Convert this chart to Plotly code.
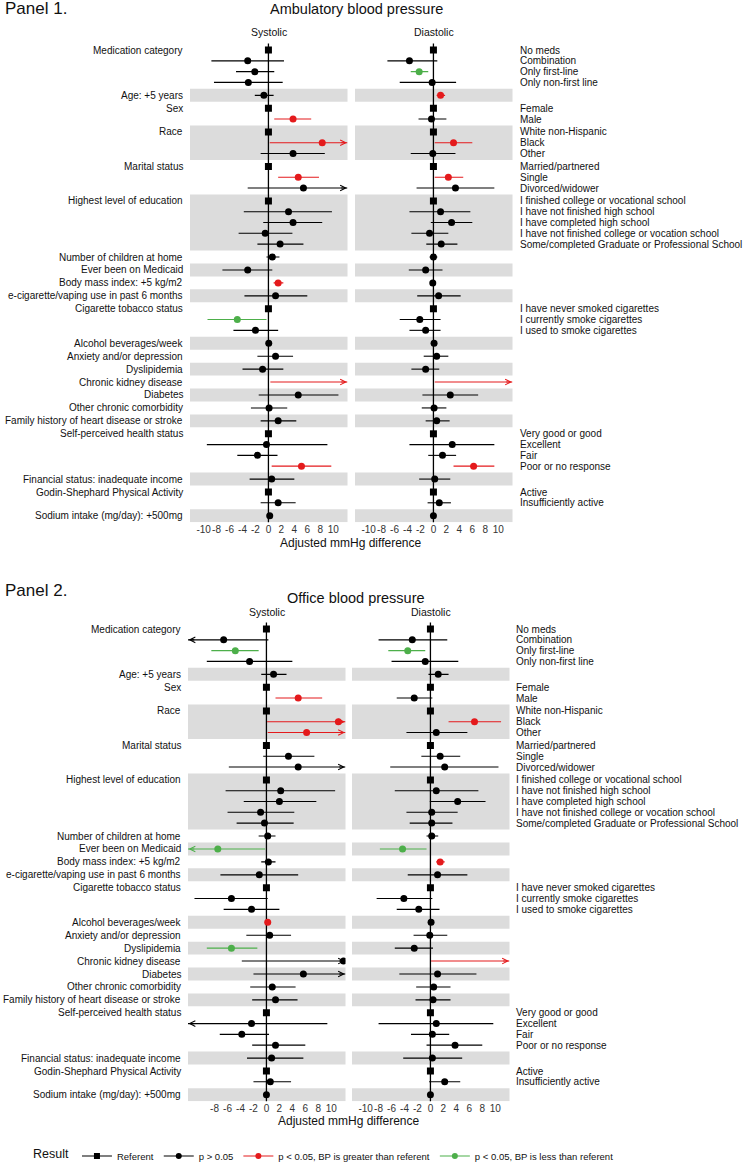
import plotly.graph_objects as go

# ---------------- data ----------------
groups = [
    "Medication category", "Age: +5 years", "Sex", "Race", "Marital status",
    "Highest level of education", "Number of children at home", "Ever been on Medicaid",
    "Body mass index: +5 kg/m2", "e-cigarette/vaping use in past 6 months",
    "Cigarette tobacco status", "Alcohol beverages/week", "Anxiety and/or depression",
    "Dyslipidemia", "Chronic kidney disease", "Diabetes", "Other chronic comorbidity",
    "Family history of heart disease or stroke", "Self-perceived health status",
    "Financial status: inadequate income", "Godin-Shephard Physical Activity",
    "Sodium intake (mg/day): +500mg",
]
levels = [
    ["No meds", "Combination", "Only first-line", "Only non-first line"],
    [""],
    ["Female", "Male"],
    ["White non-Hispanic", "Black", "Other"],
    ["Married/partnered", "Single", "Divorced/widower"],
    ["I finished college or vocational school", "I have not finished high school",
     "I have completed high school", "I have not finished college or vocation school",
     "Some/completed Graduate or Professional School"],
    [""], [""], [""], [""],
    ["I have never smoked cigarettes", "I currently smoke cigarettes", "I used to smoke cigarettes"],
    [""], [""], [""], [""], [""], [""], [""],
    ["Very good or good", "Excellent", "Fair", "Poor or no response"],
    [""],
    ["Active", "Insufficiently active"],
    [""],
]

# Panel 1: ambulatory BP (None = referent level)
amb_sys_est = [None, -3.2, -2.1, -3.1, -0.7, None, 3.8, None, 8.3, 3.8, None, 4.6, 5.4,
               None, 3.1, 3.8, -0.5, 1.8, 0.6, -3.2, 1.5, 1.1, None, -4.8, -2.0, 0.05,
               1.1, -0.9, 14.5, 4.6, 0.1, 1.5, None, -0.3, -1.7, 5.1, 0.5, None, 1.5, 0.2]
amb_sys_lo = [None, -8.8, -5.0, -8.4, -2.1, None, 0.9, None, 0.2, -1.2, None, 1.5, -3.2,
              None, -3.8, -0.8, -4.6, -1.7, -0.3, -7.1, 0.8, -3.7, None, -9.4, -5.4, -0.2,
              -1.7, -4.0, 0.3, -1.5, -2.7, -1.2, None, -9.5, -4.8, 0.5, -2.9, None, -1.2, -0.1]
amb_sys_hi = [None, 2.4, 0.9, 2.2, 0.8, None, 6.6, None, 16.5, 8.7, None, 7.8, 14.0,
              None, 9.8, 8.3, 3.7, 5.4, 1.7, 0.6, 2.3, 6.0, None, -0.3, 1.5, 0.3,
              3.8, 2.3, 28.0, 10.8, 2.9, 4.3, None, 9.1, 1.4, 9.7, 4.0, None, 4.2, 0.5]

amb_dia_est = [None, -3.7, -2.2, -0.2, 1.1, None, -0.3, None, 3.1, -0.1, None, 2.3, 3.4,
               None, 1.1, 2.8, -0.6, 1.2, 0.0, -1.2, -0.1, 0.8, None, -2.1, -1.2, 0.1,
               0.5, -1.2, 13.0, 2.6, 0.1, 0.5, None, 2.9, 1.4, 6.2, 0.2, None, 0.9, 0.0]
amb_dia_lo = [None, -7.1, -3.5, -5.2, 0.5, None, -2.3, None, 0.2, -3.5, None, 0.2, -2.6,
              None, -3.7, -0.4, -3.4, -1.1, -0.6, -3.8, -0.4, -2.5, None, -5.2, -3.7, -0.2,
              -1.5, -3.4, 0.2, -1.7, -1.8, -1.2, None, -3.7, -0.8, 3.1, -2.2, None, -0.9, -0.2]
amb_dia_hi = [None, 0.6, -0.8, 3.5, 1.8, None, 2.0, None, 6.0, 3.4, None, 4.6, 9.4,
              None, 5.7, 6.0, 2.3, 3.7, 0.6, 1.4, 0.3, 4.2, None, 1.1, 1.1, 0.4,
              2.3, 0.9, 26.0, 6.9, 2.0, 2.5, None, 9.4, 3.5, 9.4, 2.6, None, 2.7, 0.2]

# Panel 2: office BP
off_sys_est = [None, -6.6, -4.8, -2.6, 1.1, None, 4.9, None, 11.1, 6.2, None, 3.4, 4.9,
               None, 2.2, 2.0, -0.9, -0.3, 0.2, -7.5, 0.3, -1.1, None, -5.4, -2.3, 0.2,
               0.5, -5.4, 11.9, 5.7, 0.9, 1.4, None, -2.3, -3.8, 1.4, 0.8, None, 0.6, 0.0]
off_sys_lo = [None, -15.0, -8.5, -9.2, -0.8, None, 1.4, None, 0.1, 0.2, None, -0.5, -5.8,
              None, -6.3, -3.5, -6.0, -4.6, -1.2, -15.5, -0.8, -7.1, None, -11.1, -6.6, 0.05,
              -3.1, -9.2, -3.8, -2.0, -2.5, -2.2, None, -14.0, -7.2, -2.2, -3.0, None, -2.0, -0.2]
off_sys_hi = [None, 0.3, -1.2, 4.0, 3.1, None, 8.6, None, 22.0, 14.5, None, 7.4, 15.0,
              None, 10.6, 7.7, 4.3, 4.2, 1.4, -0.2, 1.4, 4.9, None, 0.2, 2.0, 0.35,
              3.8, -1.4, 28.0, 13.5, 4.5, 4.8, None, 9.4, 0.4, 6.0, 5.7, None, 3.8, 0.2]

off_dia_est = [None, -2.8, -3.5, -0.8, 1.2, None, -2.5, None, 6.8, 0.9, None, 1.5, 2.2,
               None, 0.9, 4.2, 0.2, 0.2, 0.2, -4.3, 1.5, 1.1, None, -4.1, -1.8, 0.1,
               -0.1, -2.5, 13.5, 1.1, 0.5, 0.4, None, 0.9, 0.3, 3.8, 0.3, None, 2.2, 0.0]
off_dia_lo = [None, -8.0, -6.5, -6.0, -0.3, None, -5.2, None, 2.8, -3.7, None, -1.4, -6.2,
              None, -5.5, -0.1, -3.7, -3.2, -0.6, -7.8, 0.9, -3.5, None, -8.3, -5.2, -0.2,
              -2.6, -5.5, 0.1, -4.8, -2.2, -2.3, None, -8.0, -3.0, -0.6, -4.2, None, -0.2, -0.2]
off_dia_hi = [None, 2.6, -0.8, 4.3, 2.8, None, 0.3, None, 10.9, 5.7, None, 4.6, 10.5,
              None, 7.4, 8.5, 4.2, 3.4, 1.2, -0.6, 2.2, 5.7, None, 0.3, 1.4, 0.4,
              2.6, 0.4, 27.0, 7.1, 3.1, 3.1, None, 9.7, 2.9, 8.0, 4.9, None, 4.6, 0.2]

tick_vals = [-10, -8, -6, -4, -2, 0, 2, 4, 6, 8, 10]
tick_vals_office_sys = [-8, -6, -4, -2, 0, 2, 4, 6, 8, 10]

legend_names = ["Referent", "p > 0.05", "p < 0.05, BP is greater than referent",
                "p < 0.05, BP is less than referent"]

# ---------------- styling / layout ----------------
W, H = 744, 1164
FONT = "Liberation Sans, Arial, Helvetica, sans-serif"
RED = "#E41A1C"
GREEN = "#4DAF4A"
BLACK = "#000000"
BAND = "#DCDCDC"
XMIN, XMAX = -12.1, 12.2

def fx(px):
    return px / W

def fy(py):
    return 1 - py / H

# row positions (in row units) computed from group structure
row_y, group_span = [], []
cum = 0.0
for g, lv in zip(groups, levels):
    n = len(lv)
    group_span.append((cum, cum + n + 0.2))
    for i in range(n):
        row_y.append(cum + 0.6 + i)
    cum += n + 0.2
TOTAL = cum

panels = [
    dict(name="Panel 1.", title="Ambulatory blood pressure", top=43.6, bot=522.2,
         sys_px=(190, 347.5), dia_px=(355, 512.5), left_px=185, right_px=518,
         title_y=9, name_y=9, sub_y=32, xtitle_y=543,
         xs=("x", "x2"), ya="y",
         series=[(amb_sys_est, amb_sys_lo, amb_sys_hi, tick_vals),
                 (amb_dia_est, amb_dia_lo, amb_dia_hi, tick_vals)]),
    dict(name="Panel 2.", title="Office blood pressure", top=622.6, bot=1101.2,
         sys_px=(188, 345.5), dia_px=(352, 509.5), left_px=183, right_px=514,
         title_y=598, name_y=590, sub_y=612, xtitle_y=1121,
         xs=("x3", "x4"), ya="y2",
         series=[(off_sys_est, off_sys_lo, off_sys_hi, tick_vals_office_sys),
                 (off_dia_est, off_dia_lo, off_dia_hi, tick_vals)]),
]

fig = go.Figure()
shapes, annotations = [], []
layout_axes = {}

def paper_text(text, x, y, size, xanchor="center"):
    return dict(text=text, x=x, y=y, xref="paper", yref="paper", showarrow=False,
                xanchor=xanchor, yanchor="middle",
                font=dict(size=size, family=FONT, color="#111"))

for pi, P in enumerate(panels):
    ya = P["ya"]
    ykey = "yaxis" if ya == "y" else "yaxis" + ya[1:]
    layout_axes[ykey] = dict(domain=[fy(P["bot"]), fy(P["top"])], range=[TOTAL, 0],
                             visible=False, anchor=P["xs"][0], fixedrange=True)
    for ci, (xa, (est, lo, hi, tv), pxr, sub) in enumerate(
            zip(P["xs"], P["series"], [P["sys_px"], P["dia_px"]], ["Systolic", "Diastolic"])):
        xkey = "xaxis" if xa == "x" else "xaxis" + xa[1:]
        layout_axes[xkey] = dict(
            domain=[fx(pxr[0]), fx(pxr[1])], anchor=ya, range=[XMIN, XMAX],
            tickvals=tv, ticktext=[str(v) for v in tv], tickangle=0,
            showgrid=False, zeroline=False, showline=False, ticks="",
            tickfont=dict(size=10, color="#333333", family=FONT), fixedrange=True)
        # grey bands
        for gi, (s, e) in enumerate(group_span):
            if gi % 2 == 1:
                shapes.append(dict(type="rect", xref=f"{xa} domain", yref=ya,
                                   x0=0, x1=1, y0=s, y1=e, fillcolor=BAND,
                                   line=dict(width=0), layer="below"))
        # zero line
        shapes.append(dict(type="line", xref=xa, yref=f"{ya} domain", x0=0, x1=0,
                           y0=0, y1=1, line=dict(color=BLACK, width=1.3), layer="below"))
        # subplot title
        annotations.append(paper_text(sub, fx((pxr[0] + pxr[1]) / 2), fy(P["sub_y"]), 10.5))
        # CI lines and points
        cats = {"ns": ([], [], [], []), "up": ([], [], [], []), "down": ([], [], [], [])}
        refx, refy = [], []
        for r, y in enumerate(row_y):
            if est[r] is None:
                refx.append(0)
                refy.append(y)
                continue
            st = "up" if lo[r] > 0 else ("down" if hi[r] < 0 else "ns")
            lx, ly, mx, my = cats[st]
            lx += [max(lo[r], XMIN), min(hi[r], XMAX), None]
            ly += [y, y, None]
            mx.append(est[r])
            my.append(y)
            col = {"ns": BLACK, "up": RED, "down": GREEN}[st]
            if hi[r] > XMAX:
                annotations.append(dict(x=XMAX - 0.08, y=y, ax=XMAX - 1.2, ay=y,
                                        xref=xa, yref=ya, axref=xa, ayref=ya, text="",
                                        showarrow=True, arrowhead=5, arrowsize=1,
                                        arrowwidth=1.1, arrowcolor=col, standoff=0))
            if lo[r] < XMIN:
                annotations.append(dict(x=XMIN + 0.08, y=y, ax=XMIN + 1.2, ay=y,
                                        xref=xa, yref=ya, axref=xa, ayref=ya, text="",
                                        showarrow=True, arrowhead=5, arrowsize=1,
                                        arrowwidth=1.1, arrowcolor=col, standoff=0))
        for st, col in (("ns", BLACK), ("up", RED), ("down", GREEN)):
            lx, ly, mx, my = cats[st]
            fig.add_trace(go.Scatter(x=lx, y=ly, mode="lines", xaxis=xa, yaxis=ya,
                                     line=dict(color=col, width=1.1), showlegend=False,
                                     hoverinfo="skip"))
            fig.add_trace(go.Scatter(x=mx, y=my, mode="markers", xaxis=xa, yaxis=ya,
                                     marker=dict(color=col, size=7, symbol="circle"),
                                     showlegend=False))
        fig.add_trace(go.Scatter(x=refx, y=refy, mode="markers", xaxis=xa, yaxis=ya,
                                 marker=dict(color=BLACK, size=7, symbol="square"),
                                 showlegend=False))

    # group labels (left) and level labels (right)
    r = 0
    for g, lv in zip(groups, levels):
        annotations.append(dict(text=g, x=fx(P["left_px"]), y=row_y[r], xref="paper",
                                yref=ya, xanchor="right", yanchor="middle", showarrow=False,
                                font=dict(size=10, family=FONT, color="#111")))
        for l in lv:
            if l:
                annotations.append(dict(text=l, x=fx(P["right_px"]), y=row_y[r],
                                        xref="paper", yref=ya, xanchor="left",
                                        yanchor="middle", showarrow=False,
                                        font=dict(size=10, family=FONT, color="#111")))
            r += 1
    # titles
    annotations.append(paper_text(P["name"], fx(3), fy(P["name_y"]), 17, xanchor="left"))
    annotations.append(paper_text(P["title"], fx(356), fy(P["title_y"]), 14.5))
    annotations.append(paper_text("Adjusted mmHg difference",
                                  fx((P["sys_px"][0] + P["dia_px"][1]) / 2),
                                  fy(P["xtitle_y"]), 12))

# legend entries
leg_styles = [(BLACK, "square"), (BLACK, "circle"), (RED, "circle"), (GREEN, "circle")]
for name, (col, sym) in zip(legend_names, leg_styles):
    fig.add_trace(go.Scatter(x=[None], y=[None], mode="lines+markers", name=name,
                             xaxis="x4", yaxis="y2",
                             line=dict(color=col, width=1.1),
                             marker=dict(color=col, size=6, symbol=sym)))

fig.update_layout(
    width=W, height=H, autosize=False,
    margin=dict(l=0, r=0, t=0, b=0, autoexpand=False),
    paper_bgcolor="white", plot_bgcolor="rgba(0,0,0,0)",
    font=dict(family=FONT, color="#111"),
    shapes=shapes, annotations=annotations,
    showlegend=True,
    legend=dict(orientation="h", x=fx(325), xanchor="center", y=fy(1156), yanchor="middle",
                title=dict(text="Result", font=dict(size=12.5, family=FONT)),
                font=dict(size=9.5, family=FONT), itemwidth=30,
                bgcolor="rgba(0,0,0,0)", tracegroupgap=0),
    **layout_axes,
)

fig.write_html("out.html", config={"displayModeBar": False},
               post_script="document.body.style.margin='0px';document.body.style.overflow='hidden';")
